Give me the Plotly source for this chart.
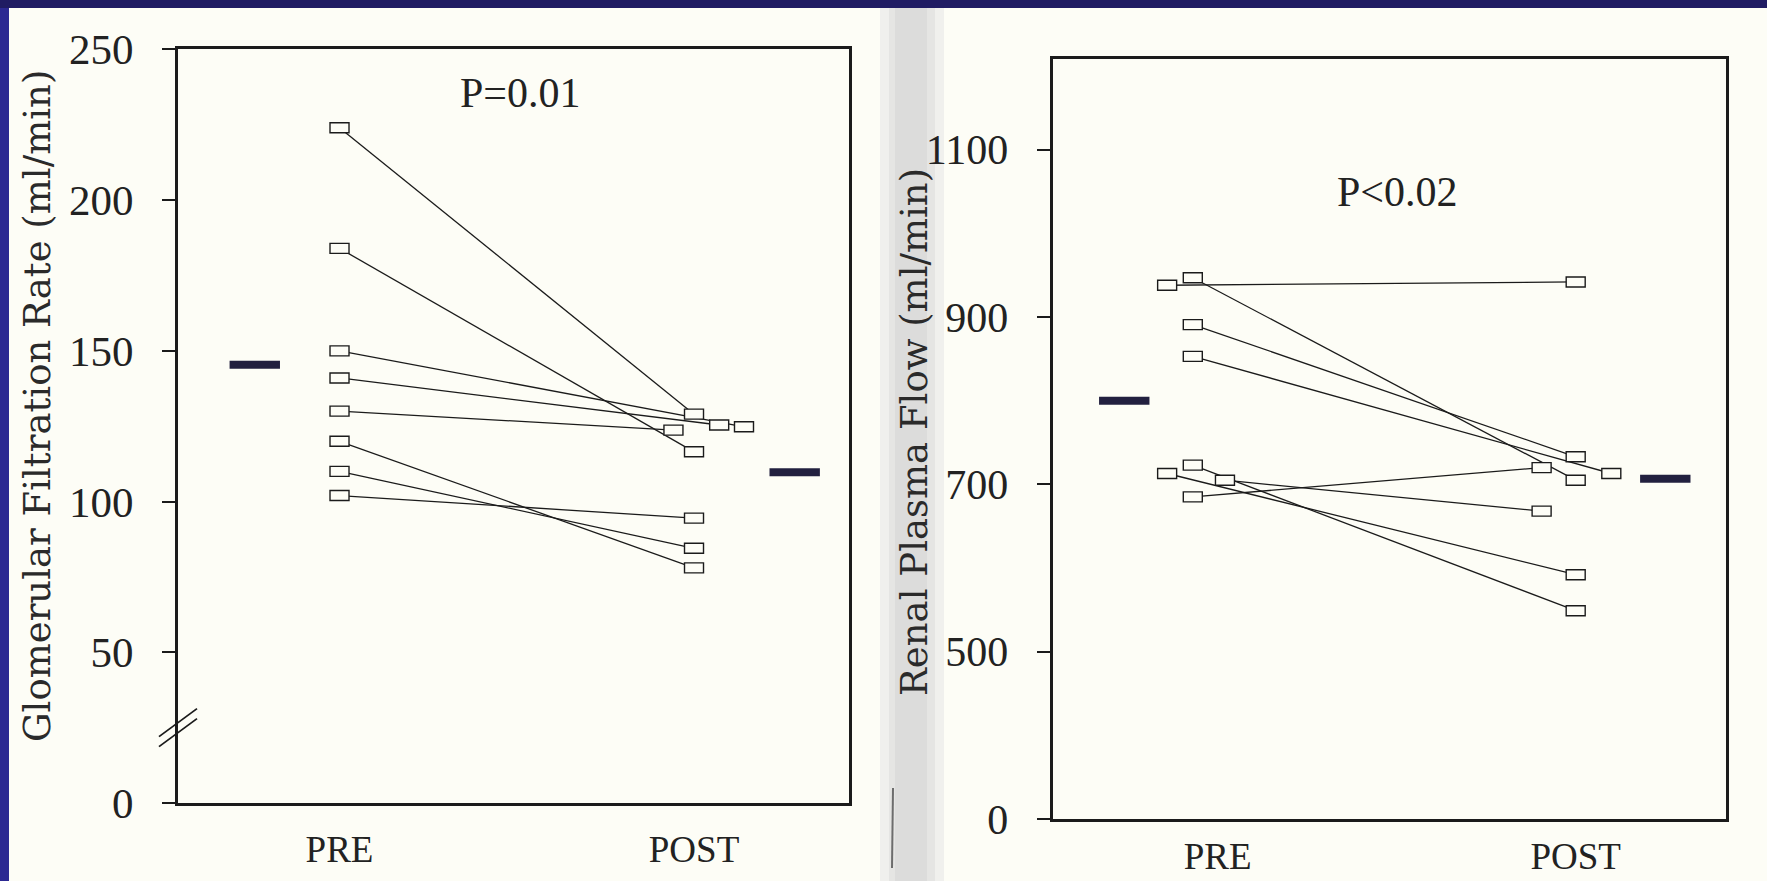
import plotly.graph_objects as go

W, H = 1767, 881

# ---------------- data ----------------
categories = ["PRE", "POST"]

# Left panel: Glomerular Filtration Rate (ml/min), one value per subject
gfr_pre = [224, 184, 150, 141, 130, 120, 110, 102]
gfr_post = [129, 116.5, 124.8, 125.4, 123.7, 78, 84.5, 94.5]
gfr_means = [145.4, 109.7]          # PRE mean, POST mean
gfr_ticks = [0, 50, 100, 150, 200, 250]
gfr_p = "P=0.01"

# Right panel: Renal Plasma Flow (ml/min)
rpf_pre = [938, 947, 891, 853, 713, 723, 705, 685]
rpf_post = [942, 705, 733, 713, 592, 549, 668, 720]
rpf_means = [800, 706.7]
rpf_ticks = [500, 700, 900, 1100]   # plus the broken-axis "0"
rpf_p = "P<0.02"

# ---------------- layout constants (positions / styles) ----------------
# horizontal jitter used in the original to keep overlapping boxes apart
gfr_pre_dx = [0, 0, 0, 0, 0, 0, 0, 0]
gfr_post_dx = [0, 0, 0.141, 0.071, -0.058, 0, 0, 0]
rpf_pre_dx = [-0.067, 0, 0, 0, -0.067, 0, 0.084, 0]
rpf_post_dx = [0, 0, 0, 0.093, 0, 0, -0.089, -0.089]
gfr_mean_x = [-0.239, 1.284]
rpf_mean_x = [-0.179, 1.234]
RPF_FLOOR = 300      # axis position labelled "0" (axis is broken below 500)
GFR_BREAK = 25       # where the break mark sits on the GFR axis

INK = "#1b1b1b"
PAGE = "#fdfdf6"
NAVY = "#201c63"
SERIF_NUM = "Liberation Serif"
SERIF_TXT = "DejaVu Serif"


def px_x(p):
    return p / W


def px_y(p):
    return 1 - p / H


fig = go.Figure()


def add_panel(pre, post, pre_dx, post_dx, means, mean_x, xref, yref):
    xs, ys = [], []
    for i in range(len(pre)):
        xs += [0 + pre_dx[i], 1 + post_dx[i], None]
        ys += [pre[i], post[i], None]
    fig.add_trace(go.Scatter(x=xs, y=ys, mode="lines",
                             line=dict(color=INK, width=1.3),
                             xaxis=xref, yaxis=yref, hoverinfo="skip",
                             showlegend=False))
    fig.add_trace(go.Scatter(x=mean_x, y=means, mode="markers",
                             marker=dict(symbol="line-ew", size=36,
                                         line=dict(color="#22203f", width=8)),
                             xaxis=xref, yaxis=yref, showlegend=False))
    # open rectangular markers
    for vals, dx, base in ((pre, pre_dx, 0), (post, post_dx, 1)):
        for v, d in zip(vals, dx):
            fig.add_shape(type="rect", xref=xref, yref=yref,
                          xsizemode="pixel", ysizemode="pixel",
                          xanchor=base + d, yanchor=v,
                          x0=-9.5, x1=9.5, y0=-5, y1=5,
                          line=dict(color=INK, width=1.4),
                          fillcolor=PAGE, layer="above")


add_panel(gfr_pre, gfr_post, gfr_pre_dx, gfr_post_dx, gfr_means, gfr_mean_x, "x", "y")
add_panel(rpf_pre, rpf_post, rpf_pre_dx, rpf_post_dx, rpf_means, rpf_mean_x, "x2", "y2")

axis_common = dict(showline=True, mirror=True, linewidth=2.6, linecolor=INK,
                   showgrid=False, zeroline=False, automargin=False)

gfr_ydom = [px_y(803), px_y(49.4)]
gfr_yrange = [0, 250]

fig.update_layout(
    width=W, height=H,
    margin=dict(l=0, r=0, t=0, b=0, autoexpand=False),
    paper_bgcolor=NAVY,
    plot_bgcolor="rgba(0,0,0,0)",
    showlegend=False,
    xaxis=dict(domain=[px_x(178), px_x(849)], range=[-0.4556, 1.4372],
               tickvals=[0, 1], ticktext=categories, ticks="",
               ticklabelstandoff=12,
               tickfont=dict(family=SERIF_NUM, size=37, color="#222"),
               anchor="y", **axis_common),
    yaxis=dict(domain=gfr_ydom, range=gfr_yrange,
               tickvals=gfr_ticks, ticks="outside", ticklen=13, tickwidth=1.6,
               tickcolor=INK, ticklabelstandoff=20,
               tickfont=dict(family=SERIF_NUM, size=43, color="#222"),
               anchor="x", **axis_common),
    xaxis2=dict(domain=[px_x(1052.5), px_x(1725.6)], range=[-0.3664, 1.3915],
                tickvals=[0.065, 1], ticktext=categories, ticks="",
                ticklabelstandoff=3,
                tickfont=dict(family=SERIF_NUM, size=37, color="#222"),
                anchor="y2", **axis_common),
    yaxis2=dict(domain=[px_y(819), px_y(59.4)], range=[RPF_FLOOR, 1208],
                tickvals=[RPF_FLOOR] + rpf_ticks,
                ticktext=["0"] + [str(t) for t in rpf_ticks],
                ticks="outside", ticklen=13, tickwidth=1.6, tickcolor=INK,
                ticklabelstandoff=20,
                tickfont=dict(family=SERIF_NUM, size=42, color="#222"),
                anchor="x2", **axis_common),
)

# page, fold shadow and scan artefacts
bg_shapes = [
    dict(type="rect", xref="paper", yref="paper", x0=px_x(9), x1=1,
         y0=0, y1=px_y(8), fillcolor=PAGE, line=dict(width=0), layer="below"),
    dict(type="rect", xref="paper", yref="paper", x0=0, x1=px_x(9),
         y0=0, y1=px_y(8), fillcolor="#2c2992", line=dict(width=0), layer="below"),
    dict(type="rect", xref="paper", yref="paper", x0=px_x(880), x1=px_x(944),
         y0=0, y1=px_y(8), fillcolor="#f0f0ed", line=dict(width=0), layer="below"),
    dict(type="rect", xref="paper", yref="paper", x0=px_x(889), x1=px_x(935),
         y0=0, y1=px_y(8), fillcolor="#e5e5e3", line=dict(width=0), layer="below"),
    dict(type="rect", xref="paper", yref="paper", x0=px_x(895), x1=px_x(927),
         y0=0, y1=px_y(8), fillcolor="#dcdcdb", line=dict(width=0), layer="below"),
    dict(type="line", xref="paper", yref="paper", x0=px_x(892), x1=px_x(893),
         y0=px_y(868), y1=px_y(788), line=dict(color="#6d6d6d", width=2), layer="below"),
]
for s in bg_shapes:
    fig.add_shape(**s)

# axis break mark on the GFR axis (paper-referenced so it is not clipped)
break_y = gfr_ydom[0] + (GFR_BREAK - gfr_yrange[0]) / (gfr_yrange[1] - gfr_yrange[0]) * (gfr_ydom[1] - gfr_ydom[0])
for off in (-5, 5):
    fig.add_shape(type="line", xref="paper", yref="paper",
                  xsizemode="pixel", ysizemode="pixel",
                  xanchor=px_x(178), yanchor=break_y,
                  x0=-19, x1=19, y0=-14 + off, y1=14 + off,
                  line=dict(color=INK, width=1.8), layer="above")

# axis titles and p-values
fig.add_annotation(text="Glomerular Filtration Rate (ml/min)", textangle=-90,
                   xref="paper", yref="paper", x=px_x(38), y=px_y(406),
                   xanchor="center", yanchor="middle",
                   showarrow=False, font=dict(family=SERIF_TXT, size=37, color="#2a2a2a"))
fig.add_annotation(text="Renal Plasma Flow (ml/min)", textangle=-90,
                   xref="paper", yref="paper", x=px_x(914), y=px_y(432),
                   xanchor="center", yanchor="middle",
                   showarrow=False, font=dict(family=SERIF_TXT, size=37, color="#2a2a2a"))
fig.add_annotation(text=gfr_p, xref="paper", yref="paper",
                   x=px_x(520), y=px_y(93), xanchor="center", yanchor="middle",
                   showarrow=False,
                   font=dict(family=SERIF_NUM, size=42, color="#222"))
fig.add_annotation(text=rpf_p, xref="paper", yref="paper",
                   x=px_x(1397), y=px_y(192), xanchor="center", yanchor="middle",
                   showarrow=False,
                   font=dict(family=SERIF_NUM, size=42, color="#222"))

fig.write_html("out.html",
               config={"displayModeBar": False},
               post_script="document.body.style.margin='0';"
                           "document.body.style.overflow='hidden';")
